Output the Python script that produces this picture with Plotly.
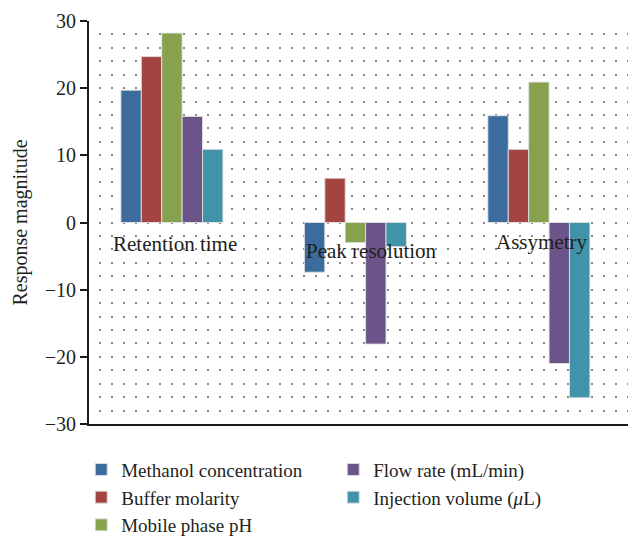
import plotly.graph_objects as go

categories = ["Retention time", "Peak resolution", "Assymetry"]
series_names = ["Methanol concentration", "Buffer molarity", "Mobile phase pH",
                "Flow rate (mL/min)", "Injection volume (<i>μ</i>L)"]
methanol = [19.7, -7.4, 15.9]
buffer = [24.7, 6.6, 10.9]
ph = [28.2, -3.0, 20.9]
flow = [15.8, -18.1, -21.0]
injection = [10.9, -3.6, -26.1]
values = [methanol, buffer, ph, flow, injection]
colors = ["#3B6C9D", "#A34441", "#87A14F", "#6B5489", "#4193A9"]
legend_ranks = [1, 3, 5, 2, 4]
label_shift_x = [3, 16, 3]
label_shift_y = [-7, -14, -5]

FONT = "Liberation Serif"
TXT = "#231f20"

fig = go.Figure()
for name, vals, col, rank in zip(series_names, values, colors, legend_ranks):
    fig.add_trace(go.Bar(
        x=categories, y=vals, name=name,
        marker=dict(color=col, line=dict(color="rgba(225,225,225,0.9)", width=1)),
        legendrank=rank,
    ))

for cat, dx, dy in zip(categories, label_shift_x, label_shift_y):
    fig.add_annotation(x=cat, y=0, text=cat, showarrow=False, xanchor="center",
                       yanchor="top", xshift=dx, yshift=dy,
                       font=dict(family=FONT, size=21, color=TXT))

dot = "0px,10px,2px,0px"
fig.update_layout(
    width=636, height=536,
    margin=dict(l=81, r=0, t=13, b=120, autoexpand=False),
    paper_bgcolor="white", plot_bgcolor="white",
    barmode="group", bargap=0.444, bargroupgap=0,
    font=dict(family=FONT, size=20, color=TXT),
    showlegend=True,
    legend=dict(orientation="h", x=-0.014, xanchor="left", y=-0.066, yanchor="top",
                entrywidth=207, entrywidthmode="pixels",
                font=dict(family=FONT, size=19, color=TXT),
                traceorder="normal", itemclick=False, bgcolor="rgba(0,0,0,0)"),
    xaxis=dict(range=[-0.452, 2.573], showticklabels=False, ticks="",
               showgrid=False, zeroline=False, showline=True,
               linecolor="#1a1a1a", linewidth=2),
    yaxis=dict(range=[-30, 30], dtick=10, tick0=0, ticks="outside", ticklen=7,
               tickwidth=1.5, tickcolor="#1a1a1a",
               showline=True, linecolor="#1a1a1a", linewidth=2,
               zeroline=False,
               showgrid=True, gridcolor="#8a8a8a", gridwidth=2, griddash=dot,
               minor=dict(dtick=2, showgrid=True, gridcolor="#8a8a8a", gridwidth=2,
                          griddash=dot, ticks=""),
               tickfont=dict(family=FONT, size=20, color=TXT),
               title=dict(text="Response magnitude", standoff=12,
                          font=dict(family=FONT, size=20, color=TXT))),
)

fig.write_html("out.html")
